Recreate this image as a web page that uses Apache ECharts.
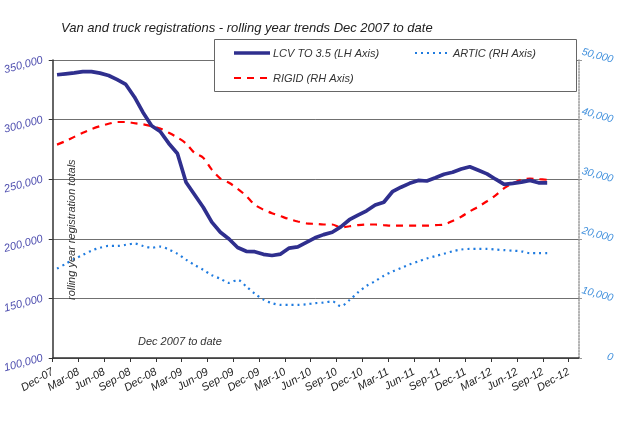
<!DOCTYPE html>
<html>
<head>
<meta charset="utf-8">
<script src="https://cdn.jsdelivr.net/npm/echarts@6/dist/echarts.min.js"></script>
<style>
html,body{margin:0;padding:0;background:#fff;}
#c{width:624px;height:427px;}
</style>
</head>
<body>
<div id="c"></div>
<script>
// month labels from Dec-07 (month 0) to Dec-12 (month 60)
var months = ['Dec-07','Jan-08','Feb-08','Mar-08','Apr-08','May-08','Jun-08','Jul-08','Aug-08','Sep-08','Oct-08','Nov-08',
'Dec-08','Jan-09','Feb-09','Mar-09','Apr-09','May-09','Jun-09','Jul-09','Aug-09','Sep-09','Oct-09','Nov-09',
'Dec-09','Jan-10','Feb-10','Mar-10','Apr-10','May-10','Jun-10','Jul-10','Aug-10','Sep-10','Oct-10','Nov-10',
'Dec-10','Jan-11','Feb-11','Mar-11','Apr-11','May-11','Jun-11','Jul-11','Aug-11','Sep-11','Oct-11','Nov-11',
'Dec-11','Jan-12','Feb-12','Mar-12','Apr-12','May-12','Jun-12','Jul-12','Aug-12','Sep-12','Oct-12','Nov-12','Dec-12'];

// monthly rolling-year totals, Dec-07 .. Sep-12 (58 months, plotted mid-month)
var lcv = [337600,338400,339200,340200,340300,339000,337000,333500,329500,319000,306000,294800,
290000,280000,271500,247500,237000,226500,214000,205500,199800,192700,189500,189200,
187000,186000,187200,192200,193200,197000,200800,203500,205500,210000,216000,219800,
223500,228300,230700,239500,243300,246500,249000,248500,251200,254200,255800,258500,
260500,257500,254500,250000,245600,246500,247500,249000,247000,247000];

var artic = [15000,15800,16600,17300,18000,18500,18800,18800,19000,19200,18800,18500,
18700,18200,17500,16500,15600,14800,13900,13300,12600,13100,12000,10800,
9800,9200,8900,8900,8900,9000,9200,9300,9500,8700,9700,11000,
12100,12900,13800,14500,15100,15700,16200,16700,17100,17500,17900,18200,
18300,18300,18300,18200,18100,18000,17900,17600,17600,17600];

var rigid = [35800,36400,37100,37800,38400,38900,39300,39600,39600,39400,39200,38900,
38500,37800,37000,36000,34400,33600,31600,30100,29400,28400,27200,25700,
24900,24300,23800,23300,22900,22600,22500,22400,22400,21900,22100,22300,
22400,22400,22300,22200,22200,22200,22200,22200,22300,22400,23000,23700,
24600,25400,26300,27300,28500,29300,29900,30100,30000,29900];

var leftTicks = [100000, 350000, 50000];   // min, max, step (LH axis)
var rightTicks = [0, 50000, 10000];        // min, max, step (RH axis)
var seriesNames = ['LCV TO 3.5 (LH Axis)','ARTIC (RH Axis)','RIGID (RH Axis)'];

function pairs(arr){ return arr.map(function(v, i){ return [i + 0.5, v]; }); }
var FONT = 'Liberation Sans';
function fmt(v){ return v.toString().replace(/\B(?=(\d{3})+(?!\d))/g, ','); }

var colLCV = '#2f2f8e', colARTIC = '#1f7bdf', colRIGID = '#ff0000';
var legendText = {fontFamily: FONT, fontStyle: 'italic', fontSize: 11, color: '#333'};
var hiddenIcon = {itemStyle: {opacity: 0}, lineStyle: {opacity: 0}};

var chart = echarts.init(document.getElementById('c'));
chart.setOption({
  animation: false,
  backgroundColor: '#fff',
  title: {
    text: 'Van and truck registrations - rolling year trends Dec 2007 to date',
    left: 56, top: 17,
    textStyle: {fontFamily: FONT, fontStyle: 'italic', fontWeight: 'normal', fontSize: 13, color: '#222'}
  },
  graphic: [
    {type: 'rect', z: 3, shape: {x: 214.5, y: 39.5, width: 362, height: 52},
     style: {fill: '#fff', stroke: '#666', lineWidth: 1}},
    {type: 'line', z: 7, shape: {x1: 234, y1: 53, x2: 270, y2: 53}, style: {stroke: colLCV, lineWidth: 3.5}},
    {type: 'line', z: 7, shape: {x1: 415, y1: 53, x2: 449, y2: 53}, style: {stroke: colARTIC, lineWidth: 2.2, lineDash: [2, 4]}},
    {type: 'line', z: 7, shape: {x1: 234, y1: 78, x2: 270, y2: 78}, style: {stroke: colRIGID, lineWidth: 2.2, lineDash: [7, 6]}},
    {type: 'text', z: 5, x: 77, y: 300, rotation: Math.PI / 2,
     style: {text: 'rolling year registration totals', fontFamily: FONT, fontStyle: 'italic', fontSize: 11, fill: '#333', textAlign: 'left', textVerticalAlign: 'bottom'}},
    {type: 'text', z: 5, x: 138, y: 336,
     style: {text: 'Dec 2007 to date', fontFamily: FONT, fontStyle: 'italic', fontSize: 11, fill: '#333'}}
  ],
  legend: [
    Object.assign({data: [seriesNames[0]], left: 226, top: 43, itemWidth: 36, itemHeight: 12, z: 6, textStyle: legendText}, hiddenIcon),
    Object.assign({data: [seriesNames[1]], left: 406, top: 43, itemWidth: 36, itemHeight: 12, z: 6, textStyle: legendText}, hiddenIcon),
    Object.assign({data: [seriesNames[2]], left: 226, top: 68, itemWidth: 36, itemHeight: 12, z: 6, textStyle: legendText}, hiddenIcon)
  ],
  grid: {left: 52, right: 45, top: 60, bottom: 69, containLabel: false},
  xAxis: {
    type: 'value',
    min: 0, max: 61.2, interval: 3,
    axisLine: {lineStyle: {color: '#333', width: 1.5}},
    axisTick: {show: true, length: 4, lineStyle: {color: '#333'}},
    axisLabel: {
      rotate: 30, fontFamily: FONT, fontStyle: 'italic', fontSize: 11, color: '#222', margin: 13,
      showMaxLabel: false,
      formatter: function(v){ return months[Math.round(v)] || ''; }
    },
    splitLine: {show: false}
  },
  yAxis: [
    {
      type: 'value', min: leftTicks[0], max: leftTicks[1], interval: leftTicks[2], position: 'left',
      axisLine: {show: true, lineStyle: {color: '#333', width: 1.5}},
      axisTick: {show: true, length: 4, lineStyle: {color: '#333'}},
      axisLabel: {formatter: fmt, rotate: 15, fontFamily: FONT, fontStyle: 'italic', fontSize: 11, color: '#5050b0', margin: 10},
      splitLine: {show: true, lineStyle: {color: '#707070', width: 1}}
    },
    {
      type: 'value', min: rightTicks[0], max: rightTicks[1], interval: rightTicks[2], position: 'right',
      axisLine: {show: true, lineStyle: {color: '#999', width: 1.5, type: 'dotted'}},
      axisTick: {show: true, length: 3, lineStyle: {color: '#999'}},
      axisLabel: {formatter: fmt, rotate: -15, align: 'right', fontFamily: FONT, fontStyle: 'italic', fontSize: 10.5, color: '#3f8fdc', margin: 34},
      splitLine: {show: false}
    }
  ],
  series: [
    {name: seriesNames[0], type: 'line', yAxisIndex: 0, data: pairs(lcv), symbol: 'none', smooth: false,
     lineStyle: {color: colLCV, width: 3.7}, itemStyle: {color: colLCV}, z: 4},
    {name: seriesNames[1], type: 'line', yAxisIndex: 1, data: pairs(artic), symbol: 'none', smooth: 0.3,
     lineStyle: {color: colARTIC, width: 2.2, type: [2, 4]}, itemStyle: {color: colARTIC}, z: 2},
    {name: seriesNames[2], type: 'line', yAxisIndex: 1, data: pairs(rigid), symbol: 'none', smooth: 0.3,
     lineStyle: {color: colRIGID, width: 2.2, type: [7, 6]}, itemStyle: {color: colRIGID}, z: 3}
  ]
});
</script>
</body>
</html>
